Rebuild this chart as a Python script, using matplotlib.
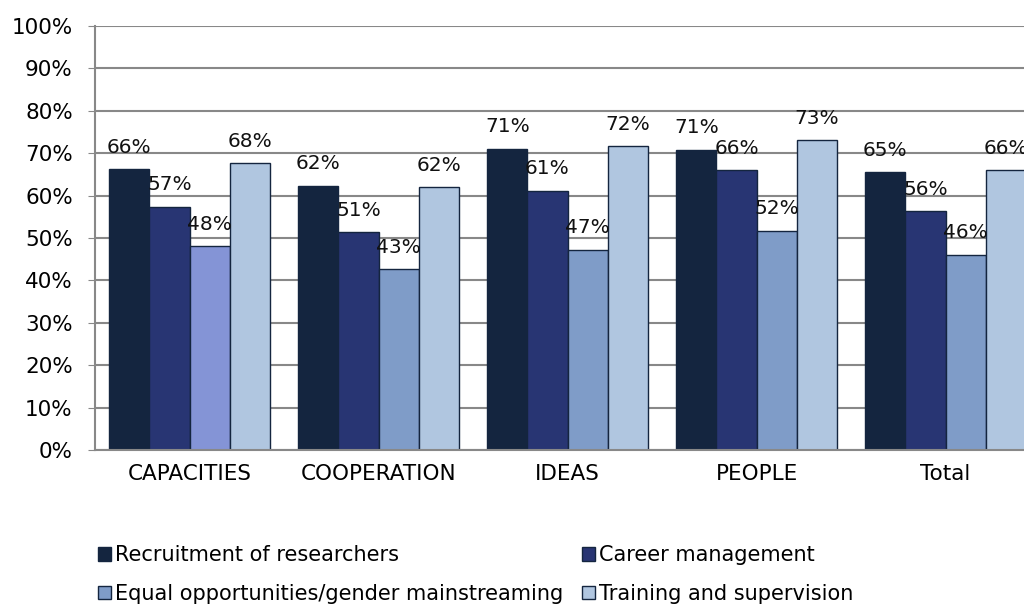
import numpy as np
from matplotlib import pyplot as plt
from matplotlib.patches import Patch

categories = ['CAPACITIES', 'COOPERATION', 'IDEAS', 'PEOPLE', 'Total']
series = ['Recruitment of researchers', 'Career management',
          'Equal opportunities/gender mainstreaming', 'Training and supervision']
recruitment = [66.2, 62.3, 71.0, 70.8, 65.5]
career = [57.4, 51.4, 61.1, 66.0, 56.3]
equal = [48.0, 42.6, 47.2, 51.7, 46.0]
training = [67.6, 62.0, 71.6, 73.1, 66.0]
labels = [['66%', '62%', '71%', '71%', '65%'],
          ['57%', '51%', '61%', '66%', '56%'],
          ['48%', '43%', '47%', '52%', '46%'],
          ['68%', '62%', '72%', '73%', '66%']]

colors = ['#14253f', '#283573', '#7f9cc8', '#b0c6e0']
odd_color = '#8494d6'   # CAPACITIES equal-opportunities bar is drawn in a different shade
edge = '#14253f'

plt.rcParams['font.family'] = ['DejaVu Sans']

fig = plt.figure(figsize=(10.24, 6.06), dpi=100)
ax = fig.add_axes([95 / 1024, 156 / 606, 945 / 1024, 424 / 606])

x = np.arange(len(categories))
width = 0.212
values = [recruitment, career, equal, training]
for i, vals in enumerate(values):
    offs = (i - 1.5) * width
    cols = [colors[i]] * len(categories)
    if i == 2:
        cols[0] = odd_color
    ax.bar(x + offs, vals, width, color=cols, edgecolor=edge, linewidth=1.0, zorder=2)
    for j, v in enumerate(vals):
        ax.text(x[j] + offs, v + 5.2, labels[i][j], ha='center', va='center',
                fontsize=14.5, color='#111111', zorder=3)

ax.set_xlim(-0.5, len(categories) - 0.5)
ax.set_ylim(0, 100)
ax.set_yticks(np.arange(0, 101, 10))
ax.set_yticklabels([f'{t}%' for t in range(0, 101, 10)], fontsize=15.5)
ax.set_xticks(x)
ax.set_xticklabels(categories, fontsize=15.5)
ax.tick_params(axis='x', length=0, pad=10)
ax.tick_params(axis='y', length=5, color='#888888', pad=11)
ax.yaxis.grid(True, color='#888888', linewidth=1.5, zorder=0)
ax.set_axisbelow(True)
for s in ['top', 'right']:
    ax.spines[s].set_visible(False)
for s in ['left', 'bottom']:
    ax.spines[s].set_color('#888888')
    ax.spines[s].set_linewidth(1.5)

# legend is filled row by row in the reference, matplotlib fills by column
handles = [Patch(facecolor=colors[i], edgecolor=edge, linewidth=1.0) for i in range(4)]
order = [0, 2, 1, 3]
fig.legend([handles[i] for i in order], [series[i] for i in order], ncol=2, loc='upper left',
           bbox_to_anchor=(90 / 1024, 1 - 537 / 606),
           frameon=False, fontsize=15, handlelength=0.6, handleheight=0.6,
           handletextpad=0.2, columnspacing=0.9, labelspacing=0.9, borderaxespad=0)

fig.savefig('out.png', dpi=100)
